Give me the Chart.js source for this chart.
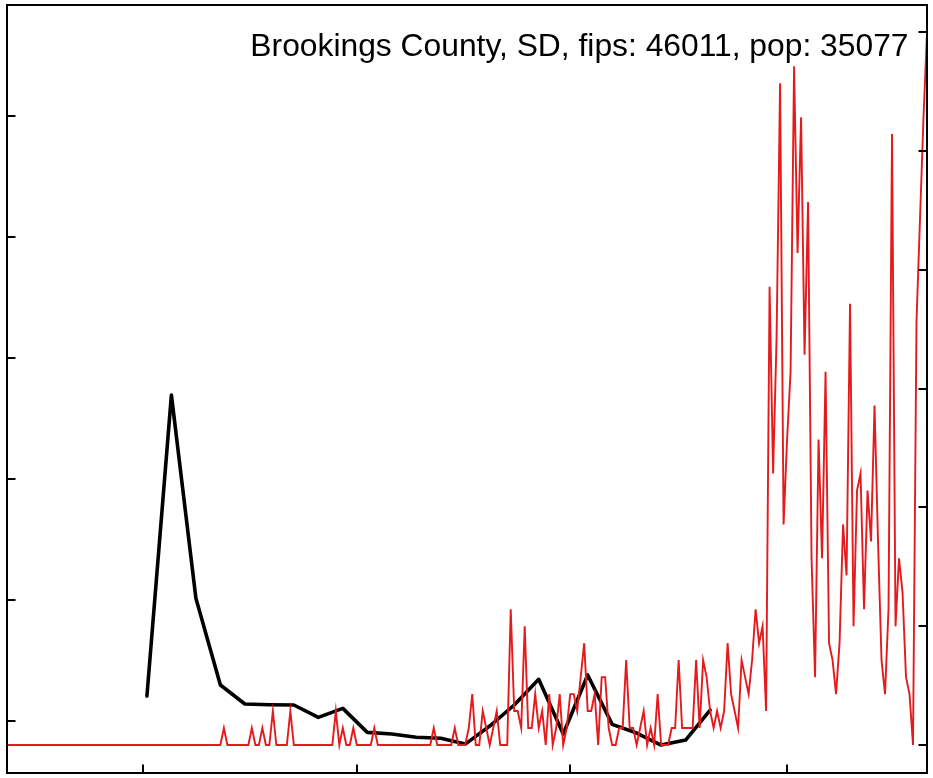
<!DOCTYPE html>
<html><head><meta charset="utf-8">
<script src="https://cdn.jsdelivr.net/npm/chart.js@4/dist/chart.umd.min.js"></script>
<style>html,body{margin:0;padding:0;background:#fff;overflow:hidden;}canvas{display:block;}</style>
</head><body>
<canvas id="c" width="933" height="778"></canvas>
<script>
const titleText = "Brookings County, SD, fips: 46011, pop: 35077";
const startDate = "2020-01-22";
// daily new cases (red), one value per day from startDate
const dailyCases = [
0,0,0,0,0,0,0,0,0,0,
0,0,0,0,0,0,0,0,0,0,
0,0,0,0,0,0,0,0,0,0,
0,0,0,0,0,0,0,0,0,0,
0,0,0,0,0,0,0,0,0,0,
0,0,0,0,0,0,0,0,0,0,
0,0,1,0,0,0,0,0,0,0,
1,0,0,1,0,0,2,0,0,0,
0,2,0,0,0,0,0,0,0,0,
0,0,0,0,2,0,1,0,0,1,
0,0,0,0,0,1,0,0,0,0,
0,0,0,0,0,0,0,0,0,0,
0,0,1,0,0,0,0,0,1,0,
0,0,1,3,0,0,2,1,0,1,
2,0,0,0,8,2,2,1,7,1,
1,3,1,2,0,3,0,1,3,0,
1,3,3,2,4,6,2,2,3,0,
4,4,1,0,0,1,1,5,1,1,
0,1,2,0,1,0,3,0,0,0,
1,1,5,1,1,1,1,5,1,5,
4,2,1,2,1,2,6,3,2,1,
5,4,3,5,8,6,7,2,27,16,
24,39,13,18,22,40,29,37,23,32,
11,4,18,11,22,6,5,3,6,13,
10,26,7,15,16,8,15,12,20,12,
5,3,8,36,7,11,9,4,3,0,
25,31,37,42
];
// weekly series (black), left axis
const weeklyDates = ['2020-03-02','2020-03-09','2020-03-16','2020-03-23','2020-03-30','2020-04-06',
'2020-04-13','2020-04-20','2020-04-27','2020-05-04','2020-05-11','2020-05-18','2020-05-25',
'2020-06-01','2020-06-08','2020-06-15','2020-06-22','2020-06-29','2020-07-06','2020-07-13',
'2020-07-20','2020-07-27','2020-08-03','2020-08-10'];
const weeklyValues = [1.204,3.692,2.012,1.295,1.138,1.132,1.130,1.028,1.102,0.904,0.890,0.863,
0.855,0.807,0.956,1.130,1.342,0.890,1.378,0.970,0.898,0.799,0.840,1.088];
const xTickDates = ['2020-03-01','2020-05-01','2020-07-01','2020-09-01'];
const leftTicks = [1,2,3,4,5,6];
const rightTicks = [0,7,14,21,28,35,42];

const dayLabels = [];
{
  const t0 = Date.parse(startDate + 'T00:00:00Z');
  for (let i = 0; i < dailyCases.length; i++) {
    dayLabels.push(new Date(t0 + i * 86400000).toISOString().slice(0, 10));
  }
}

const framePlugin = {
  id: 'frame',
  afterDraw(chart) {
    const {ctx, chartArea: a, scales} = chart;
    ctx.save();
    ctx.strokeStyle = '#000';
    ctx.lineWidth = 2;
    ctx.strokeRect(a.left, a.top, a.right - a.left, a.bottom - a.top);
    ctx.beginPath();
    leftTicks.forEach(v => { const y = Math.round(scales.yL.getPixelForValue(v)); ctx.moveTo(a.left, y); ctx.lineTo(a.left + 8.5, y); });
    rightTicks.forEach(v => { const y = Math.round(scales.yR.getPixelForValue(v)); ctx.moveTo(a.right, y); ctx.lineTo(a.right - 8.5, y); });
    xTickDates.forEach(d => { const x = Math.round(scales.x.getPixelForValue(dayLabels.indexOf(d))); ctx.moveTo(x, a.bottom); ctx.lineTo(x, a.bottom - 8.5); });
    ctx.stroke();
    ctx.fillStyle = '#000';
    ctx.font = '31.8px "Liberation Sans", Arial, sans-serif';
    ctx.textAlign = 'right';
    ctx.textBaseline = 'alphabetic';
    ctx.fillText(titleText, 908.5, 56);
    ctx.restore();
  }
};
const bgPlugin = {
  id: 'bg',
  beforeDraw(chart) { const c = chart.ctx; c.save(); c.fillStyle = '#fff'; c.fillRect(0, 0, chart.width, chart.height); c.restore(); }
};

new Chart(document.getElementById('c'), {
  type: 'line',
  data: {
    labels: dayLabels,
    datasets: [
      { label: 'daily', data: dailyCases, yAxisID: 'yR', borderColor: 'rgb(228,26,28)', borderWidth: 1.9,
        pointRadius: 0, tension: 0, fill: false, borderJoinStyle: 'miter' },
      { label: 'weekly', data: weeklyDates.map((d, i) => ({x: d, y: weeklyValues[i]})), yAxisID: 'yL',
        borderColor: '#000', borderWidth: 3.6, pointRadius: 0, tension: 0, fill: false,
        borderCapStyle: 'round', borderJoinStyle: 'round' }
    ]
  },
  options: {
    responsive: false, animation: false, devicePixelRatio: 1,
    layout: { padding: { left: 7, right: 6, top: 5, bottom: 5 } },
    plugins: { legend: { display: false }, tooltip: { enabled: false }, title: { display: false } },
    scales: {
      x: { type: 'category', display: false, offset: false },
      yL: { type: 'linear', position: 'left', display: false, min: 0.568, max: 6.915 },
      yR: { type: 'linear', position: 'right', display: false, min: -1.65, max: 43.61 }
    }
  },
  plugins: [bgPlugin, framePlugin]
});
</script>
</body></html>
